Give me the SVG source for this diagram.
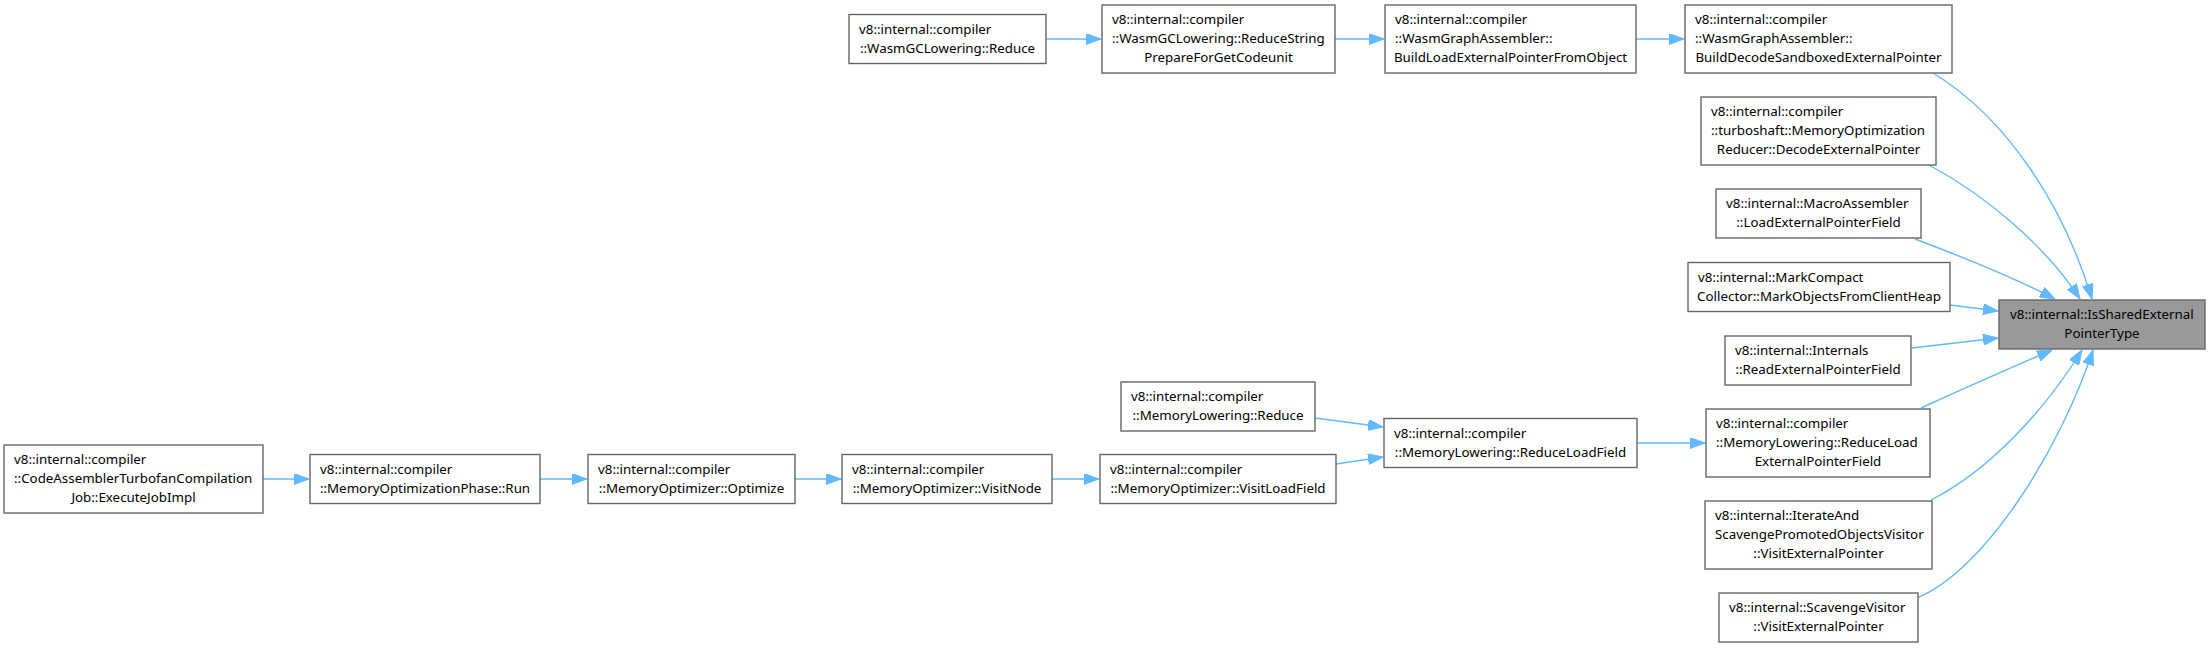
<svg xmlns="http://www.w3.org/2000/svg" width="2210" height="648" viewBox="0 0 2210 648">
<style>
.n rect{fill:#ffffff;stroke:#666666;stroke-width:1.4}
.hl rect{fill:#999999;stroke:#666666;stroke-width:1.4}
text{font-family:"Noto Sans","Liberation Sans",sans-serif;font-size:13.33px;fill:#000000}
.m{text-anchor:middle}
#edges path{fill:none;stroke:#63b8ff;stroke-width:1.4;marker-end:url(#ah)}
</style>
<defs>
<marker id="ah" markerUnits="userSpaceOnUse" markerWidth="15" markerHeight="11" refX="15" refY="5.5" orient="auto">
<path d="M0,0 L15,5.5 L0,11 Z" fill="#63b8ff" stroke="#63b8ff" stroke-width="1"/>
</marker>
</defs>
<rect width="2210" height="648" fill="#ffffff"/>
<g id="edges">
<path d="M1046,39 L1101,39"/>
<path d="M1335,39 L1384,39"/>
<path d="M1636,39 L1684,39"/>
<path d="M1933,73 C2010,120 2065,210 2092,299"/>
<path d="M1929,165 C1985,195 2045,245 2080,299"/>
<path d="M1915,239 C1960,256 2015,278 2055,299"/>
<path d="M1950,305 L1998,311"/>
<path d="M1912,348 L1998,338"/>
<path d="M1921,408 C1965,388 2015,366 2052,350"/>
<path d="M1931,500 C1990,470 2045,410 2082,350"/>
<path d="M1917,598 C1985,570 2060,450 2093,350"/>
<path d="M1315,418 L1383,427"/>
<path d="M1336,464 L1383,457"/>
<path d="M1637,443 L1705,443"/>
<path d="M1052,479 L1099,479"/>
<path d="M795,479 L841,479"/>
<path d="M540,479 L587,479"/>
<path d="M263,479 L309,479"/>
</g>
<g id="n1" class="hl"><rect x="1999" y="300" width="206" height="49"/><text x="2010" y="319">v8::internal::IsSharedExternal</text><text class="m" x="2102" y="338">PointerType</text></g>
<g id="n2" class="n"><rect x="1685" y="5" width="267" height="68"/><text x="1695" y="24">v8::internal::compiler</text><text x="1695" y="43">::WasmGraphAssembler::</text><text class="m" x="1818.5" y="62">BuildDecodeSandboxedExternalPointer</text></g>
<g id="n3" class="n"><rect x="1701" y="97" width="235" height="68"/><text x="1711" y="116">v8::internal::compiler</text><text x="1711" y="135">::turboshaft::MemoryOptimization</text><text class="m" x="1818.5" y="154">Reducer::DecodeExternalPointer</text></g>
<g id="n4" class="n"><rect x="1716" y="189" width="205" height="49"/><text x="1726" y="208">v8::internal::MacroAssembler</text><text class="m" x="1818.5" y="227">::LoadExternalPointerField</text></g>
<g id="n5" class="n"><rect x="1688" y="262.5" width="262" height="49"/><text x="1698" y="281.5">v8::internal::MarkCompact</text><text class="m" x="1819" y="300.5">Collector::MarkObjectsFromClientHeap</text></g>
<g id="n6" class="n"><rect x="1725" y="336" width="186" height="49"/><text x="1735" y="355">v8::internal::Internals</text><text class="m" x="1818" y="374">::ReadExternalPointerField</text></g>
<g id="n7" class="n"><rect x="1706" y="409" width="224" height="68"/><text x="1716" y="428">v8::internal::compiler</text><text x="1716" y="447">::MemoryLowering::ReduceLoad</text><text class="m" x="1818" y="466">ExternalPointerField</text></g>
<g id="n8" class="n"><rect x="1705" y="501" width="227" height="68"/><text x="1715" y="520">v8::internal::IterateAnd</text><text x="1715" y="539">ScavengePromotedObjectsVisitor</text><text class="m" x="1818.5" y="558">::VisitExternalPointer</text></g>
<g id="n9" class="n"><rect x="1719" y="593" width="199" height="49"/><text x="1729" y="612">v8::internal::ScavengeVisitor</text><text class="m" x="1818.5" y="631">::VisitExternalPointer</text></g>
<g id="n10" class="n"><rect x="1385" y="5" width="251" height="68"/><text x="1395" y="24">v8::internal::compiler</text><text x="1395" y="43">::WasmGraphAssembler::</text><text class="m" x="1510.5" y="62">BuildLoadExternalPointerFromObject</text></g>
<g id="n11" class="n"><rect x="1102" y="5" width="233" height="68"/><text x="1112" y="24">v8::internal::compiler</text><text x="1112" y="43">::WasmGCLowering::ReduceString</text><text class="m" x="1218.5" y="62">PrepareForGetCodeunit</text></g>
<g id="n12" class="n"><rect x="849" y="14.5" width="197" height="49"/><text x="859" y="33.5">v8::internal::compiler</text><text class="m" x="947.5" y="52.5">::WasmGCLowering::Reduce</text></g>
<g id="n13" class="n"><rect x="1384" y="418.5" width="253" height="49"/><text x="1394" y="437.5">v8::internal::compiler</text><text class="m" x="1510.5" y="456.5">::MemoryLowering::ReduceLoadField</text></g>
<g id="n14" class="n"><rect x="1121" y="382" width="194" height="49"/><text x="1131" y="401">v8::internal::compiler</text><text class="m" x="1218" y="420">::MemoryLowering::Reduce</text></g>
<g id="n15" class="n"><rect x="1100" y="454.5" width="236" height="49"/><text x="1110" y="473.5">v8::internal::compiler</text><text class="m" x="1218" y="492.5">::MemoryOptimizer::VisitLoadField</text></g>
<g id="n16" class="n"><rect x="842" y="454.5" width="210" height="49"/><text x="852" y="473.5">v8::internal::compiler</text><text class="m" x="947" y="492.5">::MemoryOptimizer::VisitNode</text></g>
<g id="n17" class="n"><rect x="588" y="454.5" width="207" height="49"/><text x="598" y="473.5">v8::internal::compiler</text><text class="m" x="691.5" y="492.5">::MemoryOptimizer::Optimize</text></g>
<g id="n18" class="n"><rect x="310" y="454.5" width="230" height="49"/><text x="320" y="473.5">v8::internal::compiler</text><text class="m" x="425" y="492.5">::MemoryOptimizationPhase::Run</text></g>
<g id="n19" class="n"><rect x="4" y="445" width="259" height="68"/><text x="14" y="464">v8::internal::compiler</text><text x="14" y="483">::CodeAssemblerTurbofanCompilation</text><text class="m" x="133.5" y="502">Job::ExecuteJobImpl</text></g>
</svg>
